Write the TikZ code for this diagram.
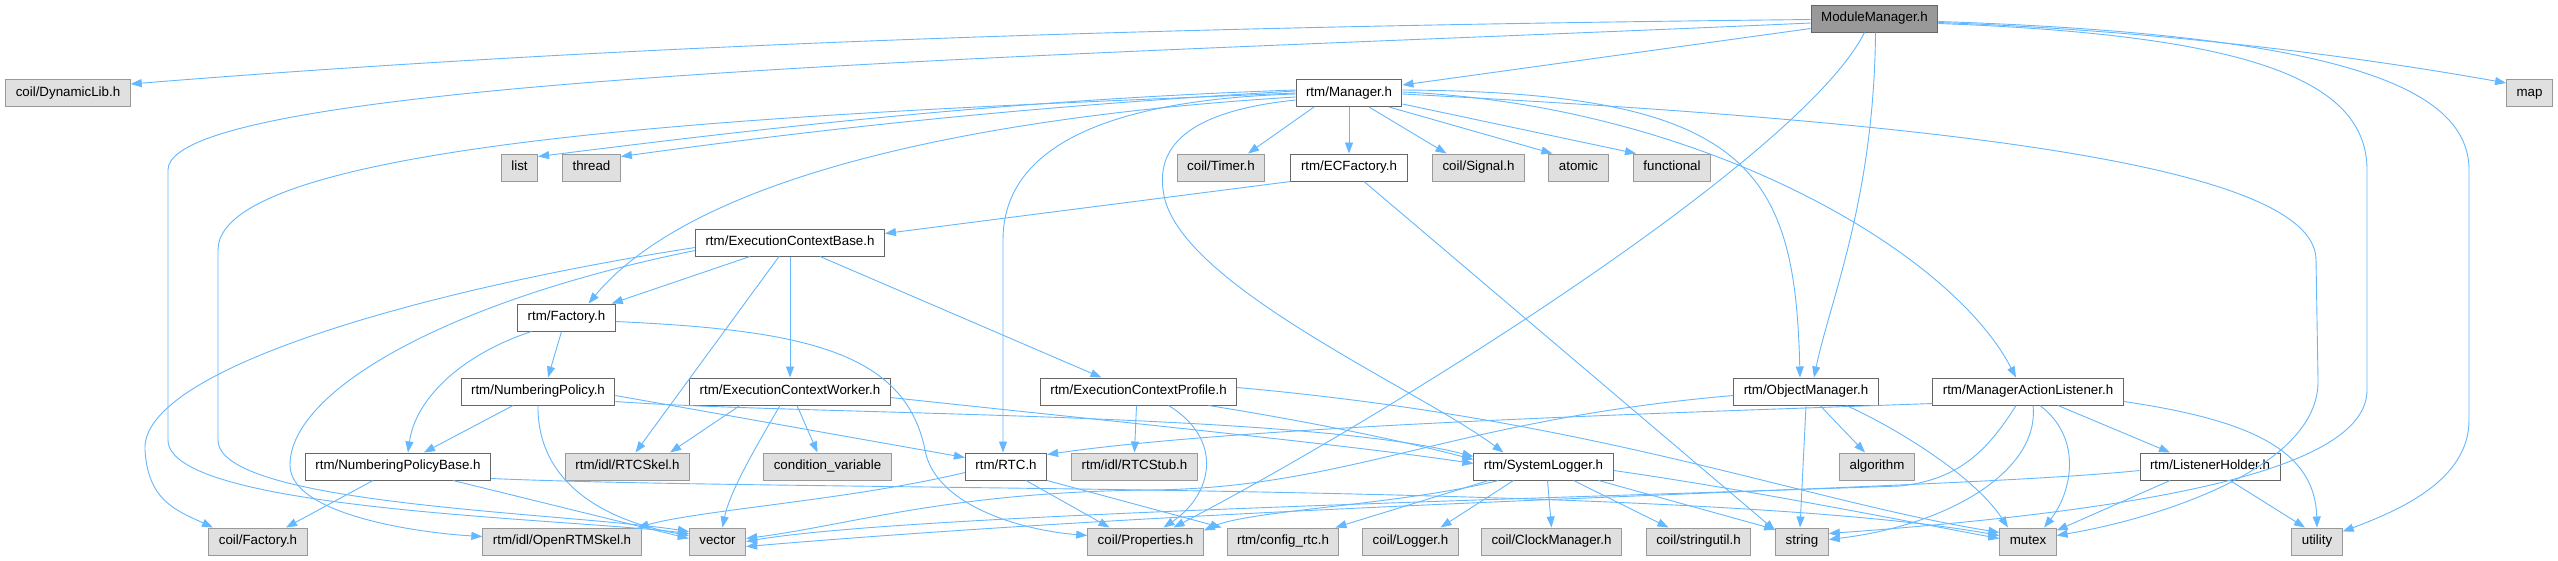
\documentclass[tikz,border=0pt]{standalone}
\usepackage{fontspec}
\setmainfont{Liberation Sans}
\usetikzlibrary{arrows.meta}
\definecolor{edgec}{HTML}{63B8FF}
\definecolor{rootfill}{HTML}{999999}
\definecolor{rootdraw}{HTML}{666666}
\definecolor{docdraw}{HTML}{666666}
\definecolor{extfill}{HTML}{E0E0E0}
\definecolor{extdraw}{HTML}{999999}
\begin{document}
\begin{tikzpicture}[x=1pt,y=-1pt,
  font=\fontsize{13.33}{16}\selectfont,
  box/.style={draw, line width=1pt, inner xsep=10pt, inner ysep=0pt, minimum height=27pt, text height=9.6pt, text depth=2.8pt},
  root/.style={box, fill=rootfill, draw=rootdraw},
  doc/.style={box, fill=white, draw=docdraw},
  ext/.style={box, fill=extfill, draw=extdraw},
  edge/.style={draw=edgec, line width=0.9pt, -{Triangle[length=11pt,width=8pt]}}]
\fill[white] (0,0) rectangle (2558,560);
\useasboundingbox (0,0) rectangle (2558,560);
% nodes
\node[root] (MM) at (1874.5,18.5) {ModuleManager.h};
\node[ext] (dyn) at (68,93) {coil/DynamicLib.h};
\node[doc] (mgr) at (1349,93) {rtm/Manager.h};
\node[ext] (map) at (2529.5,93) {map};
\node[ext] (list) at (519.5,167.5) {list};
\node[ext] (thread) at (591.5,167.5) {thread};
\node[ext] (timer) at (1221,167.5) {coil/Timer.h};
\node[doc] (ecf) at (1349,167.5) {rtm/ECFactory.h};
\node[ext] (signal) at (1478.5,167.5) {coil/Signal.h};
\node[ext] (atomic) at (1578.5,167.5) {atomic};
\node[ext] (func) at (1672,167.5) {functional};
\node[doc] (ecb) at (790,242.5) {rtm/ExecutionContextBase.h};
\node[doc] (fac) at (566.5,317.5) {rtm/Factory.h};
\node[doc] (np) at (538,391.5) {rtm/NumberingPolicy.h};
\node[doc] (ecw) at (790,391.5) {rtm/ExecutionContextWorker.h};
\node[doc] (ecp) at (1138.5,391.5) {rtm/ExecutionContextProfile.h};
\node[doc] (om) at (1806,391.5) {rtm/ObjectManager.h};
\node[doc] (mal) at (2028,391.5) {rtm/ManagerActionListener.h};
\node[doc] (npb) at (398,466.5) {rtm/NumberingPolicyBase.h};
\node[ext] (rtcskel) at (627.5,466.5) {rtm/idl/RTCSkel.h};
\node[ext] (cv) at (827.5,466.5) {condition\_variable};
\node[doc] (rtc) at (1006,466.5) {rtm/RTC.h};
\node[ext] (rtcstub) at (1134.5,466.5) {rtm/idl/RTCStub.h};
\node[doc] (sl) at (1543.5,466.5) {rtm/SystemLogger.h};
\node[ext] (algo) at (1877,466.5) {algorithm};
\node[doc] (lh) at (2210,466.5) {rtm/ListenerHolder.h};
\node[ext] (cfac) at (258,541.5) {coil/Factory.h};
\node[ext] (ors) at (562,541.5) {rtm/idl/OpenRTMSkel.h};
\node[ext] (vec) at (717.5,541.5) {vector};
\node[ext] (prop) at (1145.5,541.5) {coil/Properties.h};
\node[ext] (cfg) at (1283,541.5) {rtm/config\_rtc.h};
\node[ext] (log) at (1410.5,541.5) {coil/Logger.h};
\node[ext] (clk) at (1551.5,541.5) {coil/ClockManager.h};
\node[ext] (su) at (1698.5,541.5) {coil/stringutil.h};
\node[ext] (str) at (1802,541.5) {string};
\node[ext] (mutex) at (2028,541.5) {mutex};
\node[ext] (util) at (2317,541.5) {utility};
% ModuleManager.h
\draw[edge] ([yshift=-1pt]MM.west) .. controls (1300,25) and (700,38) .. ([yshift=-5pt]dyn.north east);
\draw[edge] ([yshift=-4.5pt]MM.west) .. controls (1100,55) and (168,75) .. (168,170) -- (168,440) .. controls (168,510) and (560,518) .. ([yshift=8pt]vec.west);
\draw[edge] ([yshift=-10pt]MM.west) -- ([yshift=8pt]mgr.east);
\draw[edge] ([xshift=-10pt]MM.south) .. controls (1800,160) and (1380,420) .. ([xshift=28pt]prop.north);
\draw[edge] ([xshift=1pt]MM.south) .. controls (1874,200) and (1830,300) .. ([xshift=8pt]om.north);
\draw[edge] ([yshift=-4pt]MM.east) .. controls (2150,30) and (2350,55) .. ([yshift=10pt]map.west);
\draw[edge] ([yshift=-5pt]MM.east) .. controls (2250,35) and (2367,80) .. (2367,170) -- (2367,390) .. controls (2367,470) and (2150,510) .. ([yshift=8pt]str.east);
\draw[edge] ([yshift=-3pt]MM.east) .. controls (2350,35) and (2469,90) .. (2469,170) -- (2469,420) .. controls (2469,480) and (2400,510) .. ([yshift=-4pt]util.north east);
% rtm/Manager.h
\draw[edge] ([yshift=3pt]mgr.west) .. controls (1000,100) and (750,130) .. ([yshift=-3pt]list.north east);
\draw[edge] ([yshift=2pt]mgr.west) .. controls (1000,108) and (800,132) .. ([yshift=-3pt]thread.north east);
\draw[edge] (mgr.west) .. controls (900,110) and (218,130) .. (218,250) -- (218,440) .. controls (218,505) and (560,512) .. ([yshift=10pt]vec.west);
\draw[edge] ([xshift=-35pt]mgr.south) -- ([xshift=27pt]timer.north);
\draw[edge] (mgr.south) -- (ecf.north);
\draw[edge] ([xshift=20pt]mgr.south) -- ([xshift=-32pt]signal.north);
\draw[edge] ([xshift=40pt]mgr.south) -- ([xshift=4pt]atomic.north west);
\draw[edge] ([yshift=-11pt]mgr.east) -- ([xshift=3pt]func.north west);
\draw[edge] ([yshift=-4pt]mgr.west) .. controls (1000,115) and (700,170) .. ([xshift=22pt]fac.north);
\draw[edge] ([yshift=-1pt]mgr.west) .. controls (1100,100) and (1003,150) .. (1003,240) -- ([xshift=-3pt]rtc.north);
\draw[edge] ([yshift=-7pt]mgr.west) .. controls (1200,110) and (1150,140) .. (1165,200) .. controls (1190,290) and (1420,390) .. ([xshift=-40pt]sl.north);
\draw[edge] ([yshift=3pt]mgr.east) .. controls (1750,92) and (1795,170) .. ([xshift=-6pt]om.north);
\draw[edge] ([yshift=1pt]mgr.east) .. controls (1700,105) and (1950,250) .. ([xshift=-12pt]mal.north);
\draw[edge] ([yshift=-1pt]mgr.east) .. controls (1900,120) and (2316,160) .. (2316,260) -- (2318,380) .. controls (2320,470) and (2150,520) .. ([yshift=6pt]mutex.east);
% rtm/ECFactory.h
\draw[edge] (ecf.south west) -- ([yshift=9pt]ecb.east);
\draw[edge] ([xshift=15pt]ecf.south) -- ([yshift=-3pt]str.north west);
% rtm/ExecutionContextBase.h
\draw[edge] ([xshift=-40pt]ecb.south) -- ([xshift=-4pt]fac.north east);
\draw[edge] ([yshift=-5pt]ecb.west) .. controls (420,290) and (140,370) .. (145,450) .. controls (148,500) and (175,510) .. ([xshift=-45pt]cfac.north);
\draw[edge] ([yshift=-8pt]ecb.west) .. controls (450,300) and (290,390) .. (290,465) .. controls (290,515) and (420,533) .. ([yshift=5pt]ors.west);
\draw[edge] ([xshift=-11pt]ecb.south) -- ([xshift=8pt]rtcskel.north);
\draw[edge] (ecb.south) -- (ecw.north);
\draw[edge] ([xshift=30pt]ecb.south) -- ([xshift=-37pt]ecp.north);
% rtm/Factory.h
\draw[edge] ([xshift=-5pt]fac.south) -- ([xshift=10pt]np.north);
\draw[edge] ([xshift=-35pt]fac.south) .. controls (460,355) and (415,400) .. ([xshift=10pt]npb.north);
\draw[edge] ([yshift=-4pt]fac.east) .. controls (800,330) and (905,350) .. (925,450) .. controls (935,505) and (1020,530) .. ([yshift=6pt]prop.west);
% rtm/NumberingPolicy.h
\draw[edge] ([xshift=-25pt]np.south) -- ([xshift=26pt]npb.north);
\draw[edge] (np.south) .. controls (537,480) and (600,520) .. ([yshift=6pt]vec.west);
\draw[edge] ([yshift=-4pt]np.east) -- ([yshift=9pt]rtc.west);
\draw[edge] ([yshift=-10pt]np.east) .. controls (800,415) and (1300,412) .. ([yshift=10pt]sl.west);
% rtm/NumberingPolicyBase.h
\draw[edge] ([xshift=-25pt]npb.south) -- ([xshift=28pt]cfac.north);
\draw[edge] ([xshift=55pt]npb.south) -- ([yshift=3pt]vec.west);
\draw[edge] ([yshift=-12pt]npb.east) .. controls (800,492) and (1700,482) .. ([yshift=6pt]mutex.west);
% rtm/ExecutionContextWorker.h
\draw[edge] ([xshift=-50pt]ecw.south) -- ([xshift=-20pt]rtcskel.north east);
\draw[edge] ([xshift=7pt]ecw.south) -- ([xshift=-10pt]cv.north);
\draw[edge] ([xshift=-10pt]ecw.south) .. controls (760,440) and (730,490) .. ([xshift=5pt]vec.north);
\draw[edge] ([yshift=-6pt]ecw.east) .. controls (1100,420) and (1350,445) .. ([yshift=3pt]sl.west);
% rtm/ExecutionContextProfile.h
\draw[edge] ([xshift=-2pt]ecp.south) -- (rtcstub.north);
\draw[edge] ([xshift=30pt]ecp.south) .. controls (1225,440) and (1212,495) .. ([xshift=18pt]prop.north);
\draw[edge] ([yshift=4pt]ecp.east) .. controls (1600,420) and (1800,500) .. ([yshift=9pt]mutex.west);
\draw[edge] ([xshift=70pt]ecp.south) .. controls (1300,420) and (1400,440) .. ([yshift=7pt]sl.west);
% rtm/RTC.h
\draw[edge] ([yshift=-6pt]rtc.west) .. controls (850,500) and (700,510) .. ([xshift=-4pt]ors.north east);
\draw[edge] ([xshift=20pt]rtc.south) -- ([xshift=-36pt]prop.north);
\draw[edge] (rtc.south east) -- ([xshift=-5pt]cfg.north west);
% rtm/SystemLogger.h
\draw[edge] ([xshift=-55pt]sl.south) -- ([xshift=-4pt]cfg.north east);
\draw[edge] ([xshift=-30pt]sl.south) -- ([xshift=30pt]log.north);
\draw[edge] ([xshift=4pt]sl.south) -- (clk.north);
\draw[edge] ([xshift=30pt]sl.south) -- ([xshift=-30pt]su.north);
\draw[edge] ([xshift=55pt]sl.south) -- ([yshift=-2pt]str.north west);
\draw[edge] ([xshift=-45pt]sl.south) .. controls (1400,505) and (1250,510) .. ([yshift=-3pt]prop.north east);
\draw[edge] ([yshift=-4pt]sl.east) .. controls (1750,490) and (1900,520) .. ([yshift=3pt]mutex.west);
% rtm/ObjectManager.h
\draw[edge] ([yshift=-4pt]om.west) .. controls (1450,420) and (1350,488) .. (1150,490) .. controls (950,492) and (850,525) .. ([yshift=3pt]vec.east);
\draw[edge] (om.south) -- ([xshift=-2pt]str.north);
\draw[edge] ([xshift=14pt]om.south) -- ([xshift=-12pt]algo.north);
\draw[edge] ([xshift=40pt]om.south) .. controls (1880,420) and (1970,470) .. ([xshift=-20pt]mutex.north);
% rtm/ManagerActionListener.h
\draw[edge] ([yshift=-12pt]mal.west) .. controls (1700,412) and (1250,425) .. ([yshift=12pt]rtc.east);
\draw[edge] ([xshift=-12pt]mal.south) .. controls (1985,455) and (1955,480) .. (1900,486) .. controls (1500,500) and (900,515) .. (vec.east);
\draw[edge] ([xshift=5pt]mal.south) .. controls (2040,470) and (1950,525) .. ([yshift=2pt]str.east);
\draw[edge] ([xshift=12pt]mal.south) .. controls (2085,440) and (2070,495) .. ([xshift=16pt]mutex.north);
\draw[edge] ([xshift=30pt]mal.south) -- ([xshift=-40pt]lh.north);
\draw[edge] ([yshift=-10pt]mal.east) .. controls (2250,420) and (2315,450) .. (util.north);
% rtm/ListenerHolder.h
\draw[edge] ([yshift=-4pt]lh.west) .. controls (1950,490) and (1300,500) .. ([yshift=-5pt]vec.east);
\draw[edge] ([xshift=-40pt]lh.south) -- ([yshift=-3pt]mutex.north east);
\draw[edge] ([xshift=20pt]lh.south) -- ([xshift=-12pt]util.north);
\end{tikzpicture}
\end{document}
